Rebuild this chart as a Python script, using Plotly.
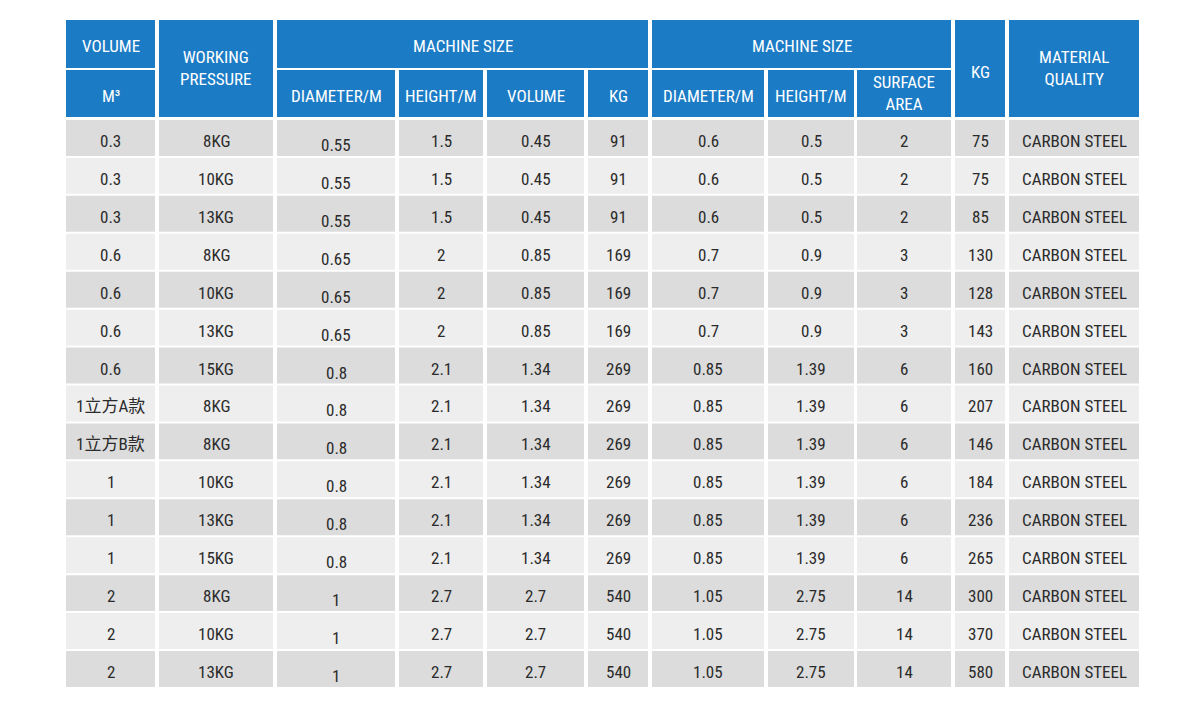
import plotly.graph_objects as go

# ---------------- data ----------------
volume = ["0.3", "0.3", "0.3", "0.6", "0.6", "0.6", "0.6", "1立方A款", "1立方B款",
          "1", "1", "1", "2", "2", "2"]
pressure = ["8KG", "10KG", "13KG", "8KG", "10KG", "13KG", "15KG", "8KG", "8KG",
            "10KG", "13KG", "15KG", "8KG", "10KG", "13KG"]
tank_diameter = ["0.55", "0.55", "0.55", "0.65", "0.65", "0.65", "0.8", "0.8", "0.8",
                 "0.8", "0.8", "0.8", "1", "1", "1"]
tank_height = ["1.5", "1.5", "1.5", "2", "2", "2", "2.1", "2.1", "2.1",
               "2.1", "2.1", "2.1", "2.7", "2.7", "2.7"]
tank_volume = ["0.45", "0.45", "0.45", "0.85", "0.85", "0.85", "1.34", "1.34", "1.34",
               "1.34", "1.34", "1.34", "2.7", "2.7", "2.7"]
tank_kg = ["91", "91", "91", "169", "169", "169", "269", "269", "269",
           "269", "269", "269", "540", "540", "540"]
filter_diameter = ["0.6", "0.6", "0.6", "0.7", "0.7", "0.7", "0.85", "0.85", "0.85",
                   "0.85", "0.85", "0.85", "1.05", "1.05", "1.05"]
filter_height = ["0.5", "0.5", "0.5", "0.9", "0.9", "0.9", "1.39", "1.39", "1.39",
                 "1.39", "1.39", "1.39", "2.75", "2.75", "2.75"]
surface_area = ["2", "2", "2", "3", "3", "3", "6", "6", "6",
                "6", "6", "6", "14", "14", "14"]
total_kg = ["75", "75", "85", "130", "128", "143", "160", "207", "146",
            "184", "236", "265", "300", "370", "580"]
material = ["CARBON STEEL"] * 15

columns = [volume, pressure, tank_diameter, tank_height, tank_volume, tank_kg,
           filter_diameter, filter_height, surface_area, total_kg, material]

# header labels: (text, first col, last col, first header row, last header row)
header_cells = [
    ("VOLUME", 0, 0, 0, 0),
    ("M³", 0, 0, 1, 1),
    ("WORKING<br>PRESSURE", 1, 1, 0, 1),
    ("MACHINE SIZE", 2, 5, 0, 0),
    ("DIAMETER/M", 2, 2, 1, 1),
    ("HEIGHT/M", 3, 3, 1, 1),
    ("VOLUME", 4, 4, 1, 1),
    ("KG", 5, 5, 1, 1),
    ("MACHINE SIZE", 6, 8, 0, 0),
    ("DIAMETER/M", 6, 6, 1, 1),
    ("HEIGHT/M", 7, 7, 1, 1),
    ("SURFACE<br>AREA", 8, 8, 1, 1),
    ("KG", 9, 9, 0, 1),
    ("MATERIAL<br>QUALITY", 10, 10, 0, 1),
]

# ---------------- layout geometry (pixels) ----------------
W, H = 1200, 709
OFF = 8  # compensate the page's default body margin
col_left = [66, 159, 277, 399, 487, 588, 652, 768, 857, 955, 1009]
col_right = [155, 273, 395, 483, 584, 648, 764, 854, 951, 1005, 1139]
head_top = [20, 70]
head_bot = [68, 117]
body_top = 120
row_pitch = 37.93
row_gap = 2.0

BLUE = "#1b7bc5"
DARK = "#dcdcdc"
LIGHT = "#eeeeee"
TEXT = "#2b2b2b"
FONT = "Liberation Sans Narrow, Roboto Condensed, DejaVu Sans Condensed, Roboto, Noto Sans CJK SC"
FS = 17

shapes = []
annotations = []

# header
for text, c0, c1, r0, r1 in header_cells:
    x0, x1 = col_left[c0], col_right[c1]
    y0, y1 = head_top[r0], head_bot[r1]
    shapes.append(dict(type="rect", xref="x", yref="y", x0=x0, x1=x1, y0=y0, y1=y1,
                       fillcolor=BLUE, line=dict(width=0), layer="below"))
    dy = 2 if "<br>" not in text else -1
    if text == "KG" and r1 - r0 == 1:
        dy = 3
    annotations.append(dict(x=(x0 + x1) / 2, y=(y0 + y1) / 2 + dy, xref="x", yref="y",
                            text=text, showarrow=False,
                            font=dict(family=FONT, size=FS, color="white"),
                            xanchor="center", yanchor="middle"))

# body
n_rows = len(volume)
for r in range(n_rows):
    y0 = body_top + r * row_pitch
    y1 = y0 + row_pitch - row_gap
    fill = DARK if r % 2 == 0 else LIGHT
    for c, col in enumerate(columns):
        x0, x1 = col_left[c], col_right[c]
        shapes.append(dict(type="rect", xref="x", yref="y", x0=x0, x1=x1, y0=y0, y1=y1,
                           fillcolor=fill, line=dict(width=0), layer="below"))
        dy = 7 if c == 2 else 3
        annotations.append(dict(x=(x0 + x1) / 2, y=(y0 + y1) / 2 + dy, xref="x", yref="y",
                                text=col[r], showarrow=False,
                                font=dict(family=FONT, size=FS, color=TEXT),
                                xanchor="center", yanchor="middle"))

fig = go.Figure()
fig.add_trace(go.Scatter(x=[OFF, W + OFF], y=[OFF, H + OFF], mode="markers",
                         marker=dict(opacity=0), hoverinfo="skip", showlegend=False))
fig.update_layout(
    width=W, height=H,
    margin=dict(l=0, r=0, t=0, b=0),
    paper_bgcolor="white", plot_bgcolor="white",
    xaxis=dict(range=[OFF, W + OFF], visible=False, fixedrange=True),
    yaxis=dict(range=[H + OFF, OFF], visible=False, fixedrange=True),
    shapes=shapes, annotations=annotations,
)
fig.write_html("out.html")
